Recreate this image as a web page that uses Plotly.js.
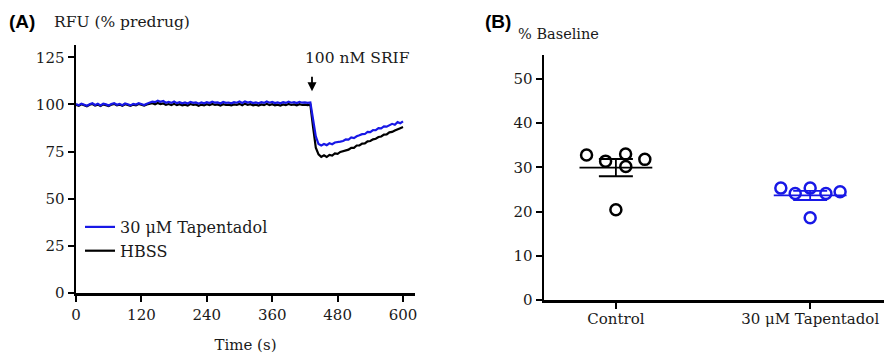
<!DOCTYPE html>
<html>
<head>
<meta charset="utf-8">
<script src="https://cdn.plot.ly/plotly-3.0.1.min.js"></script>
<style>html,body{margin:0;padding:0;background:#fff;}#chart{width:885px;height:354px;}</style>
</head>
<body>
<div id="chart"></div>
<script>
// ---- Panel A: time course (RFU, % predrug) ----
const timeS = [
  0,5,10,15,20,25,30,35,40,45,
  50,55,60,65,70,75,80,85,90,95,
  100,105,110,115,120,125,130,135,140,145,
  150,155,160,165,170,175,180,185,190,195,
  200,205,210,215,220,225,230,235,240,245,
  250,255,260,265,270,275,280,285,290,295,
  300,305,310,315,320,325,330,335,340,345,
  350,355,360,365,370,375,380,385,390,395,
  400,405,410,415,420,425,430,435,440,445,
  450,455,460,465,470,475,480,485,490,495,
  500,505,510,515,520,525,530,535,540,545,
  550,555,560,565,570,575,580,585,590,595,
  600
];
const tapentadolRFU = [
  100.2,99.6,100.4,99.8,99.3,100.1,100.6,99.7,100.3,99.5,
  100.4,100.0,99.4,100.2,100.7,99.8,100.3,99.6,100.5,100.1,
  99.5,100.3,99.9,100.6,100.2,99.7,100.4,100.9,101.5,101.2,
  102.0,101.4,101.8,100.9,101.3,100.8,101.5,100.7,101.2,100.6,
  101.0,100.5,101.3,100.8,101.1,100.4,101.0,100.6,101.2,100.7,
  101.4,100.9,101.1,100.5,101.3,100.8,101.0,100.6,101.2,100.9,
  101.5,100.8,101.6,101.0,101.3,100.7,101.1,100.6,101.2,100.8,
  101.5,100.9,101.3,100.7,101.1,100.6,101.2,100.8,101.4,100.9,
  101.2,100.7,101.3,100.9,101.1,100.8,101.0,92.0,83.0,79.0,
  78.2,79.0,78.4,79.4,78.9,79.8,79.9,80.3,80.6,81.4,
  81.3,82.5,82.1,83.1,83.6,84.2,84.3,85.4,85.3,86.4,
  86.3,87.4,87.3,88.3,88.2,89.1,89.7,89.2,90.6,90.0,
  91.0
];
const hbssRFU = [
  99.8,99.3,100.1,99.6,99.0,99.8,100.2,99.4,99.9,99.2,
  100.0,99.6,99.1,99.9,100.3,99.5,99.9,99.3,100.1,99.7,
  99.2,99.9,99.5,100.2,99.8,99.4,100.0,100.3,100.6,100.1,
  100.8,100.2,100.5,99.8,100.2,99.7,100.3,99.6,100.1,99.5,
  99.9,99.4,100.2,99.7,100.0,99.3,99.9,99.5,100.1,99.6,
  100.2,99.8,100.0,99.4,100.1,99.7,99.9,99.5,100.0,99.8,
  100.3,99.6,100.4,99.8,100.1,99.5,99.9,99.4,100.0,99.6,
  100.3,99.7,100.1,99.5,99.9,99.4,100.0,99.6,100.2,99.7,
  100.0,99.5,100.1,99.7,99.9,99.6,99.8,88.0,77.0,73.5,
  72.2,73.0,72.1,73.2,72.9,74.0,73.8,74.8,75.1,75.8,
  76.0,77.0,77.0,78.2,78.2,79.2,79.3,80.4,80.6,81.5,
  81.8,82.7,83.0,84.0,84.1,85.2,85.4,86.2,86.6,87.4,
  88.0
];
const seriesNames = ["30 μM Tapentadol", "HBSS"];
const timeTicks = [0,120,240,360,480,600];
const rfuTicks = [0,25,50,75,100,125];
const srifTime = 433;

// ---- Panel B: % baseline, individual points ----
const groupLabels = ["Control", "30 μM Tapentadol"];
const controlValues = [32.8, 31.4, 33.0, 30.2, 31.8, 20.4];
const tapentadolValues = [25.3, 24.1, 25.3, 24.1, 24.5, 18.6];
const controlJitter = [-0.151, -0.053, 0.05, 0.051, 0.149, 0];
const tapentadolJitter = [-0.151, -0.077, 0, 0.081, 0.154, 0];
const baselineTicks = [0,10,20,30,40,50];

const BLUE = "#1818e6";
const BLACK = "#000000";
const SERIF = "DejaVu Serif, serif";
const TXT = "#1a1a1a";

function mean(a){ return a.reduce((s,v)=>s+v,0)/a.length; }
function sem(a){ const m=mean(a); const v=a.reduce((s,x)=>s+(x-m)*(x-m),0)/(a.length-1); return Math.sqrt(v/a.length); }

const groups = [
  {idx:0, vals:controlValues, jit:controlJitter, color:BLACK},
  {idx:1, vals:tapentadolValues, jit:tapentadolJitter, color:BLUE}
];

const traces = [
  {x: timeS, y: hbssRFU, name: seriesNames[1], type:"scatter", mode:"lines",
   line:{color:BLACK, width:2.2}, xaxis:"x", yaxis:"y", legendrank:2},
  {x: timeS, y: tapentadolRFU, name: seriesNames[0], type:"scatter", mode:"lines",
   line:{color:BLUE, width:2.2}, xaxis:"x", yaxis:"y", legendrank:1}
];

groups.forEach(g=>{
  traces.push({
    x: g.vals.map((v,i)=>g.idx + g.jit[i]), y: g.vals, type:"scatter", mode:"markers",
    marker:{symbol:"circle-open", size:11, color:g.color, line:{width:2.5, color:g.color}},
    xaxis:"x2", yaxis:"y2", showlegend:false, hoverinfo:"y"
  });
  traces.push({
    x:[g.idx], y:[mean(g.vals)], type:"scatter", mode:"markers",
    marker:{symbol:"line-ew", size:52, color:g.color, line:{width:1.8, color:g.color}},
    error_y:{type:"data", array:[sem(g.vals)], visible:true, width:17, thickness:1.8, color:g.color},
    xaxis:"x2", yaxis:"y2", showlegend:false, hoverinfo:"y"
  });
});

const axisCommon = {
  showgrid:false, zeroline:false, showline:true, linecolor:BLACK, linewidth:2.5,
  ticks:"outside", ticklen:6, tickwidth:2, tickcolor:BLACK,
  tickfont:{family:SERIF, size:15, color:TXT}
};

const W=885, H=354;
const layout = {
  width:W, height:H,
  margin:{l:0, r:0, t:0, b:0},
  paper_bgcolor:"#ffffff", plot_bgcolor:"#ffffff",
  showlegend:true,
  legend:{x:80/W, y:1-210/H, xanchor:"left", yanchor:"top", bgcolor:"rgba(0,0,0,0)",
          font:{family:SERIF, size:16, color:TXT}, tracegroupgap:0, itemwidth:30},
  xaxis: Object.assign({}, axisCommon, {
    domain:[76/W, 415/W], range:[0, 622], tickvals:timeTicks, anchor:"y",
    title:{text:"Time (s)", font:{family:SERIF, size:15, color:TXT}, standoff:17}
  }),
  yaxis: Object.assign({}, axisCommon, {
    domain:[1-293/H, 1-45/H], range:[0, 131.5], tickvals:rfuTicks, anchor:"x"
  }),
  xaxis2: Object.assign({}, axisCommon, {
    domain:[544/W, 884/W], range:[-0.37, 1.38], tickvals:[0,1], ticktext:groupLabels, anchor:"y2",
    tickfont:{family:SERIF, size:15, color:TXT}, ticklabelstandoff:-3
  }),
  yaxis2: Object.assign({}, axisCommon, {
    domain:[1-300/H, 1-55/H], range:[0, 55.4], tickvals:baselineTicks, anchor:"x2"
  }),
  annotations:[
    {text:"<b>(A)</b>", xref:"paper", yref:"paper", x:7/W, y:1-22/H, xanchor:"left", yanchor:"middle",
     showarrow:false, font:{family:"Liberation Sans, Arial, sans-serif", size:19, color:BLACK}},
    {text:"RFU (% predrug)", xref:"paper", yref:"paper", x:52/W, y:1-22/H, xanchor:"left", yanchor:"middle",
     showarrow:false, font:{family:SERIF, size:15.5, color:TXT}},
    {text:"<b>(B)</b>", xref:"paper", yref:"paper", x:483/W, y:1-22/H, xanchor:"left", yanchor:"middle",
     showarrow:false, font:{family:"Liberation Sans, Arial, sans-serif", size:19, color:BLACK}},
    {text:"% Baseline", xref:"paper", yref:"paper", x:516/W, y:1-34/H, xanchor:"left", yanchor:"middle",
     showarrow:false, font:{family:SERIF, size:14.5, color:TXT}},
    {text:"100 nM SRIF", xref:"paper", yref:"paper", x:357/W, y:1-58/H, xanchor:"center", yanchor:"middle",
     showarrow:false, font:{family:SERIF, size:15.5, color:TXT}},
    {text:"", xref:"x", yref:"y", x:srifTime, y:107, ax:0, ay:-16, axref:"pixel", ayref:"pixel",
     showarrow:true, arrowhead:2, arrowsize:1, arrowwidth:1.8, arrowcolor:BLACK}
  ]
};

Plotly.newPlot("chart", traces, layout, {staticPlot:true, displayModeBar:false});
</script>
</body>
</html>
